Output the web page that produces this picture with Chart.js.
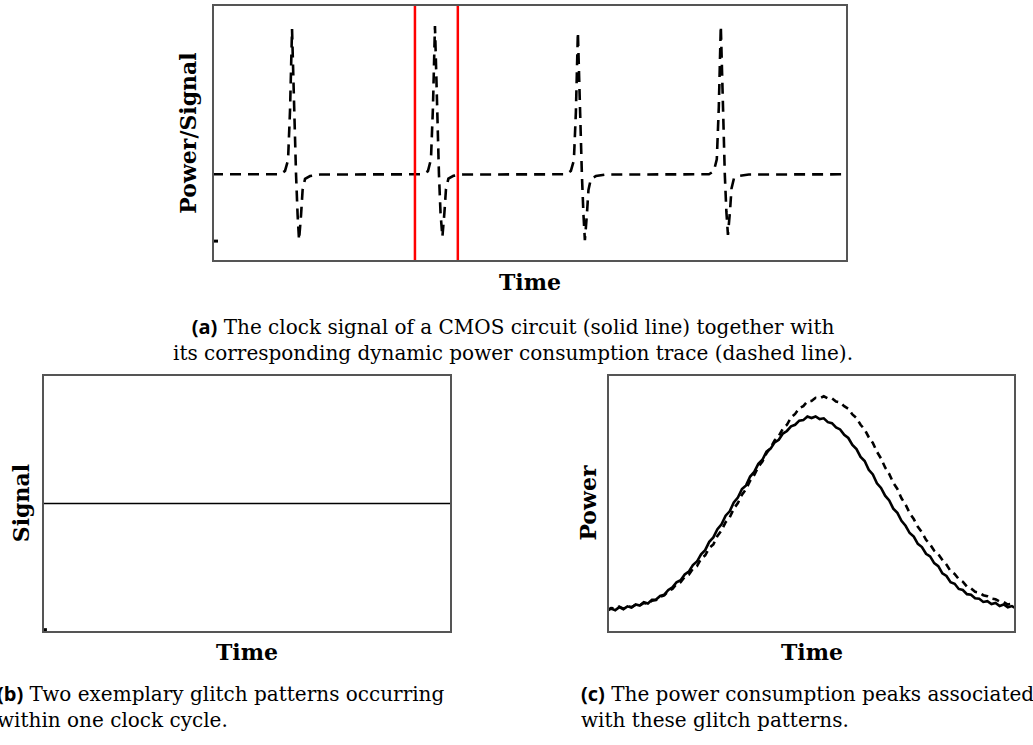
<!DOCTYPE html>
<html>
<head>
<meta charset="utf-8">
<script src="https://cdn.jsdelivr.net/npm/chart.js@4"></script>
<style>
  body { margin: 0; background: #fff; }
  #page { position: relative; width: 1033px; height: 745px; overflow: hidden; }
  .box { position: absolute; }
  .lbl { position: absolute; white-space: nowrap; font-family: "DejaVu Serif", serif; font-weight: bold; font-size: 22px; color: #000; line-height: 1; }
  .cap { position: absolute; white-space: nowrap; font-family: "DejaVu Serif", serif; font-size: 20px; color: #000; line-height: 1; }
  .cap b { font-family: "Open Sans", "DejaVu Sans", sans-serif; font-weight: 700; }
</style>
</head>
<body>
<div id="page">
  <div class="box" style="left:212px;top:4px;width:636px;height:258px"><canvas id="chartA" width="636" height="258"></canvas></div>
  <div class="box" style="left:42px;top:374px;width:410px;height:259px"><canvas id="chartB" width="410" height="259"></canvas></div>
  <div class="box" style="left:607px;top:374px;width:409px;height:259px"><canvas id="chartC" width="409" height="259"></canvas></div>

  <div class="lbl" style="left:188px;top:133px;transform:translate(-50%,-50%) rotate(-90deg)">Power/Signal</div>
  <div class="lbl" style="left:530px;top:282px;transform:translate(-50%,-50%)">Time</div>
  <div class="lbl" style="left:21px;top:503px;transform:translate(-50%,-50%) rotate(-90deg)">Signal</div>
  <div class="lbl" style="left:247px;top:652px;transform:translate(-50%,-50%)">Time</div>
  <div class="lbl" style="left:588px;top:503px;transform:translate(-50%,-50%) rotate(-90deg)">Power</div>
  <div class="lbl" style="left:812px;top:652px;transform:translate(-50%,-50%)">Time</div>

  <div class="cap" style="left:513px;top:327px;transform:translate(-50%,-50%)"><b>(a)</b> The clock signal of a CMOS circuit (solid line) together with</div>
  <div class="cap" style="left:513px;top:353px;transform:translate(-50%,-50%)">its corresponding dynamic power consumption trace (dashed line).</div>
  <div class="cap" style="left:-3px;top:694px;transform:translateY(-50%)"><b>(b)</b> Two exemplary glitch patterns occurring</div>
  <div class="cap" style="left:-3px;top:720px;transform:translateY(-50%)">within one clock cycle.</div>
  <div class="cap" style="left:581px;top:694px;transform:translateY(-50%)"><b>(c)</b> The power consumption peaks associated</div>
  <div class="cap" style="left:581px;top:720px;transform:translateY(-50%)">with these glitch patterns.</div>
</div>

<script>
/* (a) clock cycle = 10 time units, level 0..100 */
const powerTime = [0,
  4.77, 5.11, 5.32, 5.46, 5.6, 5.74, 5.88, 5.99, 6.09, 6.23, 6.34, 6.51, 6.86, 7.56,
  14.77, 15.11, 15.32, 15.46, 15.6, 15.74, 15.88, 15.99, 16.12, 16.26, 16.37, 16.54, 16.89, 17.56,
  24.77, 25.11, 25.32, 25.46, 25.6, 25.74, 25.88, 25.99, 26.09, 26.23, 26.34, 26.51, 26.86, 27.56,
  34.77, 35.11, 35.32, 35.46, 35.6, 35.74, 35.88, 35.99, 36.1, 36.24, 36.35, 36.52, 36.87, 37.56,
  44.5];
const powerLevel = [34,
  34, 35.3, 39.5, 58.9, 90.3, 62.0, 34, 18.2, 8.5, 18.2, 27.9, 32.2, 33.3, 33.9,
  34, 35.2, 39.8, 60.0, 91.5, 63.0, 34, 19.0, 9.7, 19.0, 28.2, 32.3, 33.4, 33.9,
  34, 35.3, 39.4, 58.0, 89.1, 61.5, 34, 18.4, 8.5, 18.4, 27.9, 32.2, 33.3, 33.9,
  34, 35.2, 39.8, 60.0, 91.5, 63.0, 34, 19.5, 10.5, 19.5, 28.5, 32.4, 33.4, 33.9,
  34];
const clockTime = [0, 0.42];
const clockLevel = [8.1, 8.1];
const cycleMarks = [14.2, 17.2];

/* (b) */
const signalTime = [0, 100];
const signalLevel = [50, 50];
const stubTime = [0, 1.2];
const stubLevel = [0.9, 0.9];

/* (c) one sample per time unit, 0..100 */
const peakSolid = [8.5, 9.4, 8.8, 10.0, 9.2, 10.3, 9.8, 11.0, 10.6, 11.9,
  11.4, 12.8, 12.9, 14.3, 14.8, 16.6, 17.6, 19.6, 20.4, 22.6,
  23.7, 26.2, 27.6, 30.4, 32.0, 35.2, 36.9, 40.1, 42.0, 45.3,
  47.0, 50.4, 52.3, 55.6, 57.0, 60.4, 62.2, 65.3, 66.9, 70.0,
  71.2, 73.6, 74.6, 77.0, 78.0, 79.8, 80.4, 82.0, 82.2, 83.6,
  83.0, 83.6, 82.6, 82.9, 81.4, 81.0, 79.4, 78.6, 76.5, 75.3,
  72.6, 71.0, 68.0, 66.4, 63.0, 61.2, 57.8, 56.0, 53.0, 51.2,
  48.0, 46.4, 43.3, 41.4, 38.6, 37.2, 34.4, 33.2, 30.6, 29.6,
  27.0, 25.8, 23.0, 22.0, 19.6, 19.0, 17.0, 16.6, 15.0, 14.8,
  13.4, 13.2, 12.0, 12.3, 11.2, 11.6, 10.4, 11.0, 9.9, 10.4,
  9.5];
const peakDashed = [8.8, 9.6, 9.5, 10.2, 9.4, 10.4, 10.0, 10.9, 10.6, 11.6,
  11.3, 12.5, 12.7, 14.0, 14.5, 16.2, 17.0, 18.9, 19.6, 21.7,
  22.5, 24.8, 25.8, 28.6, 30.0, 32.8, 34.2, 37.5, 39.6, 42.8,
  44.6, 48.0, 50.2, 53.4, 55.6, 58.8, 61.0, 64.2, 66.2, 69.4,
  71.6, 74.4, 76.0, 78.9, 80.4, 83.2, 84.6, 86.8, 87.6, 89.4,
  89.6, 90.8, 90.6, 91.4, 90.6, 90.6, 89.4, 89.0, 87.6, 86.6,
  84.4, 83.0, 80.4, 78.6, 75.6, 73.4, 70.0, 67.4, 63.9, 61.4,
  58.0, 55.6, 52.0, 49.6, 46.3, 44.0, 41.0, 38.9, 36.0, 34.2,
  31.8, 30.4, 28.2, 26.4, 23.9, 22.8, 20.8, 19.8, 17.9, 17.2,
  15.9, 15.6, 14.6, 14.2, 13.3, 13.0, 12.2, 11.9, 11.0, 11.3,
  9.9];

const pts = (xs, ys) => xs.map((x, i) => ({ x: x, y: ys[i] }));
const seq = ys => ys.map((y, i) => ({ x: i, y: y }));

const frame = {
  id: 'frame',
  afterDatasetsDraw(chart) {
    const a = chart.chartArea, c = chart.ctx;
    c.save();
    c.strokeStyle = '#555';
    c.lineWidth = 2;
    c.strokeRect(a.left + 1, a.top + 1, a.right - a.left - 2, a.bottom - a.top - 2);
    c.restore();
  }
};

function makeChart(id, datasets, xmax) {
  return new Chart(document.getElementById(id), {
    type: 'line',
    data: { datasets: datasets },
    options: {
      responsive: false,
      animation: false,
      layout: { padding: 0 },
      elements: { point: { radius: 0 }, line: { tension: 0 } },
      plugins: { legend: { display: false }, tooltip: { enabled: false } },
      scales: {
        x: { type: 'linear', min: 0, max: xmax, display: false },
        y: { min: 0, max: 100, display: false }
      }
    },
    plugins: [frame]
  });
}

makeChart('chartA', [
  ...cycleMarks.map(t => ({ data: pts([t, t], [0, 100]), borderColor: '#f00', borderWidth: 2.5 })),
  { data: pts(clockTime, clockLevel), borderColor: '#000', borderWidth: 3 },
  { data: pts(powerTime, powerLevel), borderColor: '#000', borderWidth: 2.6, borderDash: [11, 7] }
], 44.5);

makeChart('chartB', [
  { data: pts(stubTime, stubLevel), borderColor: '#000', borderWidth: 5 },
  { data: pts(signalTime, signalLevel), borderColor: '#000', borderWidth: 1.4 }
], 100);

makeChart('chartC', [
  { data: seq(peakSolid), borderColor: '#000', borderWidth: 2.6 },
  { data: seq(peakDashed), borderColor: '#000', borderWidth: 2.6, borderDash: [7, 5] }
], 100);
</script>
</body>
</html>
